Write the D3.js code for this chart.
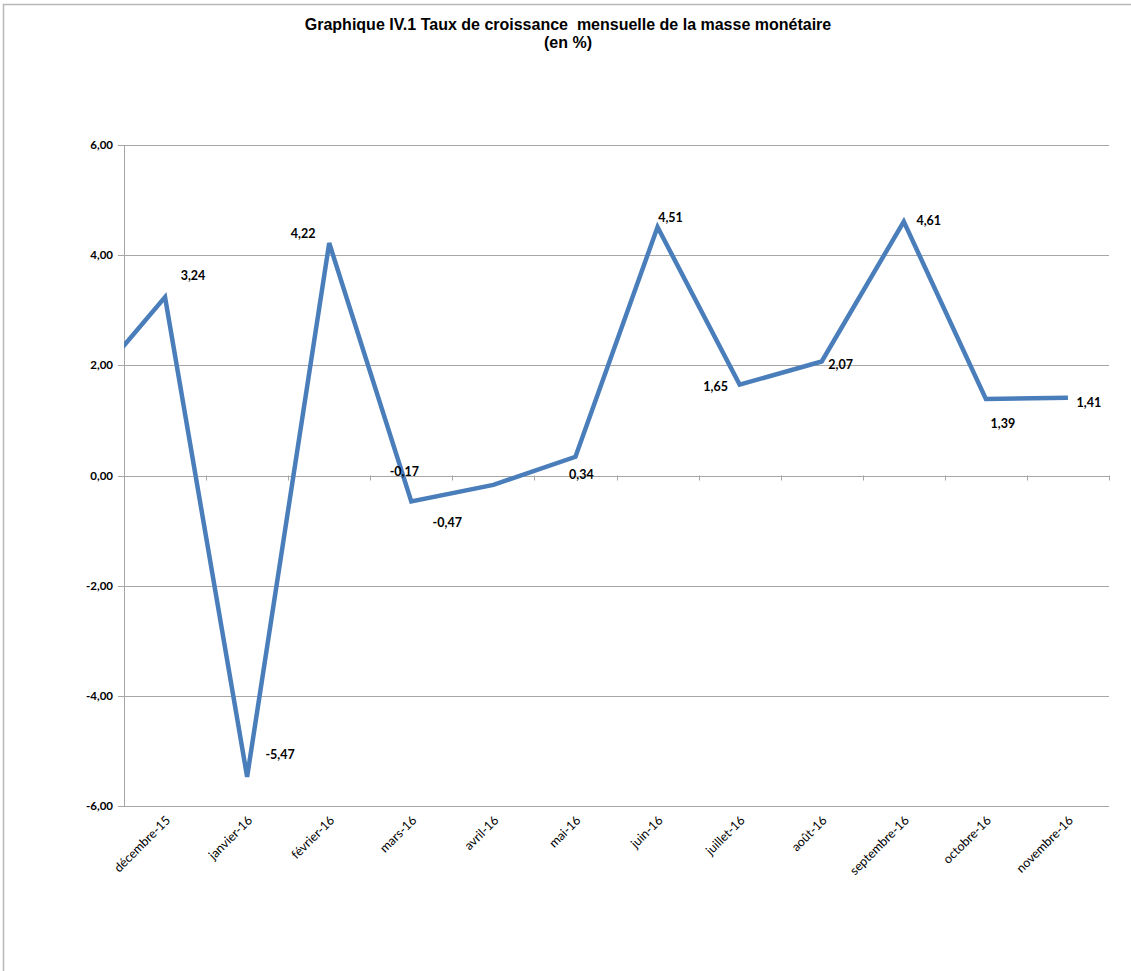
<!DOCTYPE html>
<html>
<head>
<meta charset="UTF-8">
<style>
body { margin: 0; background: #fff; }
.line { fill: none; stroke: #4a7ebb; stroke-width: 4.5px; stroke-linejoin: miter; }
.grid line { stroke: #a6a6a6; stroke-width: 1px; }
.ylab { font-family: Lato, "Open Sans", sans-serif; font-size: 11.5px; font-weight: bold; fill: #000; }
.xlab { font-family: Lato, "Open Sans", sans-serif; font-size: 12.5px; fill: #000; }
.vlab { font-family: Lato, "Open Sans", sans-serif; font-size: 12.5px; font-weight: bold; fill: #000; }
.title { font-family: "Liberation Sans", Arial, sans-serif; font-size: 16px; font-weight: bold; fill: #000; white-space: pre; }
</style>
</head>
<body>
<svg width="1131" height="971"></svg>
<script src="https://cdn.jsdelivr.net/npm/d3@7"></script>
<script>

// months shown on the axis
var months = ["décembre-15", "janvier-16", "février-16", "mars-16", "avril-16", "mai-16",
              "juin-16", "juillet-16", "août-16", "septembre-16", "octobre-16", "novembre-16"];
var values = [3.24, -5.47, 4.22, -0.47, -0.17, 0.34, 4.51, 1.65, 2.07, 4.61, 1.39, 1.41];
// previous month (novembre-15), only partly visible at the left edge
var prevValue = 1.48;
var yTicks = [-6, -4, -2, 0, 2, 4, 6];

// where each value label sits, relative to its point
var labelOffsets = [[28, -21], [33, -22], [-26, -9], [36, 22], [-89, -13], [6, 18],
                    [13, -9], [-24, 2], [19, 4], [25, -1], [17, 25], [21, 5]];

var svg = d3.select("svg");

// outer frame
svg.append("path")
    .attr("d", "M3.5,971V4.5H1131")
    .attr("fill", "none")
    .attr("stroke", "#b8b8b8")
    .attr("stroke-width", 1.5);

svg.append("text").attr("class", "title")
    .attr("x", 568).attr("y", 30).attr("text-anchor", "middle")
    .text("Graphique IV.1 Taux de croissance  mensuelle de la masse monétaire");
svg.append("text").attr("class", "title")
    .attr("x", 568).attr("y", 48).attr("text-anchor", "middle")
    .text("(en %)");

var pLeft = 124, pRight = 1109, pTop = 145, pBottom = 806;

var x = d3.scaleBand().domain(months).range([pLeft, pRight]);
var y = d3.scaleLinear().domain([-6, 6]).range([pBottom, pTop]);

var cx = function(i) { return x.step() * i + pLeft + x.step() / 2; };
var fmt = function(d) { return d3.format(".2f")(d).replace(".", ",").replace("−", "-"); };

// grid lines
svg.append("g").attr("class", "grid")
  .selectAll("line").data(yTicks).enter().append("line")
    .attr("x1", pLeft - 6).attr("x2", pRight)
    .attr("y1", function(d) { return Math.round(y(d)) + 0.5; })
    .attr("y2", function(d) { return Math.round(y(d)) + 0.5; });

// y axis line
svg.append("line")
    .attr("x1", pLeft + 0.5).attr("x2", pLeft + 0.5)
    .attr("y1", pTop).attr("y2", pBottom)
    .attr("stroke", "#a6a6a6");

svg.append("g").selectAll("text").data(yTicks).enter().append("text")
    .attr("class", "ylab")
    .attr("x", pLeft - 11)
    .attr("y", function(d) { return y(d) + 4; })
    .attr("text-anchor", "end")
    .text(fmt);

// x ticks on the zero line, at category boundaries
svg.append("g").selectAll("line").data(d3.range(months.length + 1)).enter().append("line")
    .attr("x1", function(i) { return Math.round(pLeft + i * x.step()) + 0.5; })
    .attr("x2", function(i) { return Math.round(pLeft + i * x.step()) + 0.5; })
    .attr("y1", y(0)).attr("y2", y(0) + 5)
    .attr("stroke", "#a6a6a6");

// x labels
svg.append("g").selectAll("text").data(months).enter().append("text")
    .attr("class", "xlab")
    .attr("text-anchor", "end")
    .attr("transform", function(d, i) { return "translate(" + (cx(i) + 6) + "," + (pBottom + 15) + ") rotate(-45)"; })
    .text(function(d) { return d; });

// clip to plot area
svg.append("clipPath").attr("id", "plot")
  .append("rect").attr("x", pLeft).attr("y", 0).attr("width", pRight - pLeft).attr("height", 971);

var pts = [[cx(-1), prevValue]].concat(values.map(function(v, i) { return [cx(i), v]; }));

var line = d3.line()
    .x(function(d) { return d[0]; })
    .y(function(d) { return y(d[1]); });

svg.append("path")
    .datum(pts)
    .attr("class", "line")
    .attr("clip-path", "url(#plot)")
    .attr("d", line);

svg.append("g").selectAll("text").data(values).enter().append("text")
    .attr("class", "vlab")
    .attr("text-anchor", "middle")
    .attr("x", function(d, i) { return cx(i) + labelOffsets[i][0]; })
    .attr("y", function(d, i) { return y(d) + labelOffsets[i][1] + 4; })
    .text(fmt);

</script>
</body></html>
